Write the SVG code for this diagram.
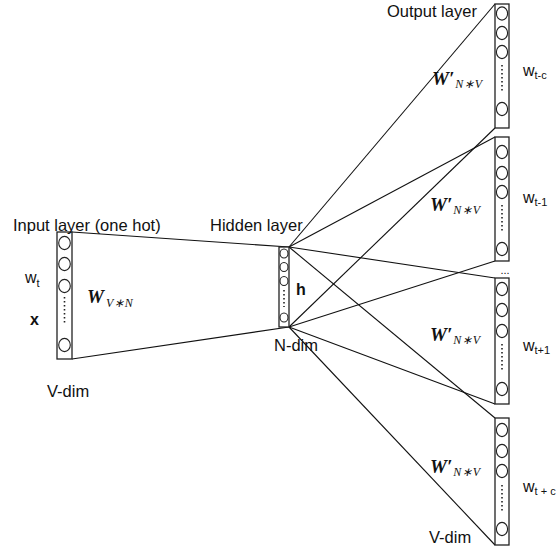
<svg xmlns="http://www.w3.org/2000/svg" width="556" height="550" viewBox="0 0 556 550">
<style>
.box{fill:#fff;stroke:#222;stroke-width:1.3}
.neu{fill:#fff;stroke:#222;stroke-width:1.1}
.dots{stroke:#222;stroke-width:1.6;stroke-dasharray:1.6 2.4}
.conn line{stroke:#111;stroke-width:1.1}
.lbl{font-family:"Liberation Sans",Arial,sans-serif;font-size:16px;fill:#111}
.sub{font-family:"Liberation Sans",Arial,sans-serif;font-size:11px;fill:#111}
.mw{font-family:"Liberation Serif","Times New Roman",serif;font-size:19px;font-weight:bold;font-style:italic;fill:#111}
.ms{font-family:"Liberation Serif","Times New Roman",serif;font-size:12px;font-style:italic;font-weight:normal;fill:#111;letter-spacing:0.8px}
</style>
<rect width="556" height="550" fill="#fff"/>
<g id="connectors" class="conn">
<line x1="72" y1="232" x2="289" y2="247"/>
<line x1="72" y1="359" x2="289" y2="327"/>
<line x1="289" y1="247" x2="495" y2="4"/>
<line x1="289" y1="327" x2="495" y2="128"/>
<line x1="289" y1="247" x2="495" y2="137"/>
<line x1="289" y1="327" x2="495" y2="261"/>
<line x1="289" y1="247" x2="495" y2="278"/>
<line x1="289" y1="327" x2="495" y2="404"/>
<line x1="289" y1="247" x2="495" y2="418"/>
<line x1="289" y1="327" x2="495" y2="545"/>
</g>
<g id="input-layer">
<rect class="box" x="57" y="232" width="15" height="127"/>
<ellipse class="neu" cx="64.5" cy="243" rx="5.8" ry="6.6"/>
<ellipse class="neu" cx="64.5" cy="264" rx="5.8" ry="6.6"/>
<ellipse class="neu" cx="64.5" cy="286" rx="5.8" ry="6.6"/>
<line class="dots" x1="64.5" y1="297" x2="64.5" y2="325"/>
<ellipse class="neu" cx="64.5" cy="345" rx="5.8" ry="6.6"/>
<text class="lbl" x="13" y="231" style="font-size:16.5px">Input layer (one hot)</text>
<text class="lbl" x="25" y="283">w<tspan class="sub" dy="4">t</tspan></text>
<text class="lbl" x="30" y="325" font-weight="bold">x</text>
<text class="lbl" x="47" y="397" style="font-size:16.5px">V-dim</text>
<text class="mw" x="87" y="303">W<tspan class="ms" dy="4" dx="2">V∗N</tspan></text>
</g>
<g id="hidden-layer">
<rect class="box" x="279" y="247" width="10" height="80"/>
<ellipse class="neu" cx="284" cy="253.5" rx="4" ry="4.5"/>
<ellipse class="neu" cx="284" cy="267" rx="4" ry="4.5"/>
<ellipse class="neu" cx="284" cy="281" rx="4" ry="4.5"/>
<line class="dots" x1="284" y1="290" x2="284" y2="307"/>
<ellipse class="neu" cx="284" cy="317.5" rx="4" ry="4.5"/>
<text class="lbl" x="296" y="295" font-weight="bold">h</text>
<text class="lbl" x="210" y="231" style="font-size:16.5px">Hidden layer</text>
<text class="lbl" x="274" y="351" style="font-size:16.5px">N-dim</text>
</g>
<g id="output-1">
<rect class="box" x="495" y="4" width="14" height="124"/>
<ellipse class="neu" cx="502" cy="13.5" rx="5.6" ry="6.6"/>
<ellipse class="neu" cx="502" cy="33" rx="5.6" ry="6.6"/>
<ellipse class="neu" cx="502" cy="52" rx="5.6" ry="6.6"/>
<line class="dots" x1="502" y1="65" x2="502" y2="93"/>
<ellipse class="neu" cx="502" cy="109" rx="5.6" ry="6.6"/>
<text class="lbl" x="387" y="17" style="font-size:16.5px">Output layer</text>
<text class="lbl" x="523" y="76">w<tspan class="sub" dy="3">t-c</tspan></text>
<text class="mw" x="432" y="85">W′<tspan class="ms" dy="3" dx="1">N∗V</tspan></text>
</g>
<g id="output-2">
<rect class="box" x="495" y="137" width="14" height="124"/>
<ellipse class="neu" cx="502" cy="152" rx="5.6" ry="6.6"/>
<ellipse class="neu" cx="502" cy="173" rx="5.6" ry="6.6"/>
<ellipse class="neu" cx="502" cy="192" rx="5.6" ry="6.6"/>
<line class="dots" x1="502" y1="205" x2="502" y2="233"/>
<ellipse class="neu" cx="502" cy="249" rx="5.6" ry="6.6"/>
<text class="lbl" x="523" y="203">w<tspan class="sub" dy="3">t-1</tspan></text>
<text class="mw" x="430" y="211">W′<tspan class="ms" dy="3" dx="1">N∗V</tspan></text>
</g>
<text class="sub" x="505" y="274" text-anchor="middle">...</text>
<g id="output-3">
<rect class="box" x="495" y="278" width="14" height="126"/>
<ellipse class="neu" cx="502" cy="289" rx="5.6" ry="6.6"/>
<ellipse class="neu" cx="502" cy="310" rx="5.6" ry="6.6"/>
<ellipse class="neu" cx="502" cy="331" rx="5.6" ry="6.6"/>
<line class="dots" x1="502" y1="344" x2="502" y2="371"/>
<ellipse class="neu" cx="502" cy="389" rx="5.6" ry="6.6"/>
<text class="lbl" x="523" y="351">w<tspan class="sub" dy="3">t+1</tspan></text>
<text class="mw" x="430" y="341">W′<tspan class="ms" dy="3" dx="1">N∗V</tspan></text>
</g>
<g id="output-4">
<rect class="box" x="495" y="418" width="14" height="127"/>
<ellipse class="neu" cx="502" cy="430" rx="5.6" ry="6.6"/>
<ellipse class="neu" cx="502" cy="451" rx="5.6" ry="6.6"/>
<ellipse class="neu" cx="502" cy="471" rx="5.6" ry="6.6"/>
<line class="dots" x1="502" y1="485" x2="502" y2="511"/>
<ellipse class="neu" cx="502" cy="529" rx="5.6" ry="6.6"/>
<text class="lbl" x="523" y="492">w<tspan class="sub" dy="3">t + c</tspan></text>
<text class="mw" x="430" y="473">W′<tspan class="ms" dy="3" dx="1">N∗V</tspan></text>
<text class="lbl" x="429" y="543" style="font-size:16.5px">V-dim</text>
</g>
</svg>
